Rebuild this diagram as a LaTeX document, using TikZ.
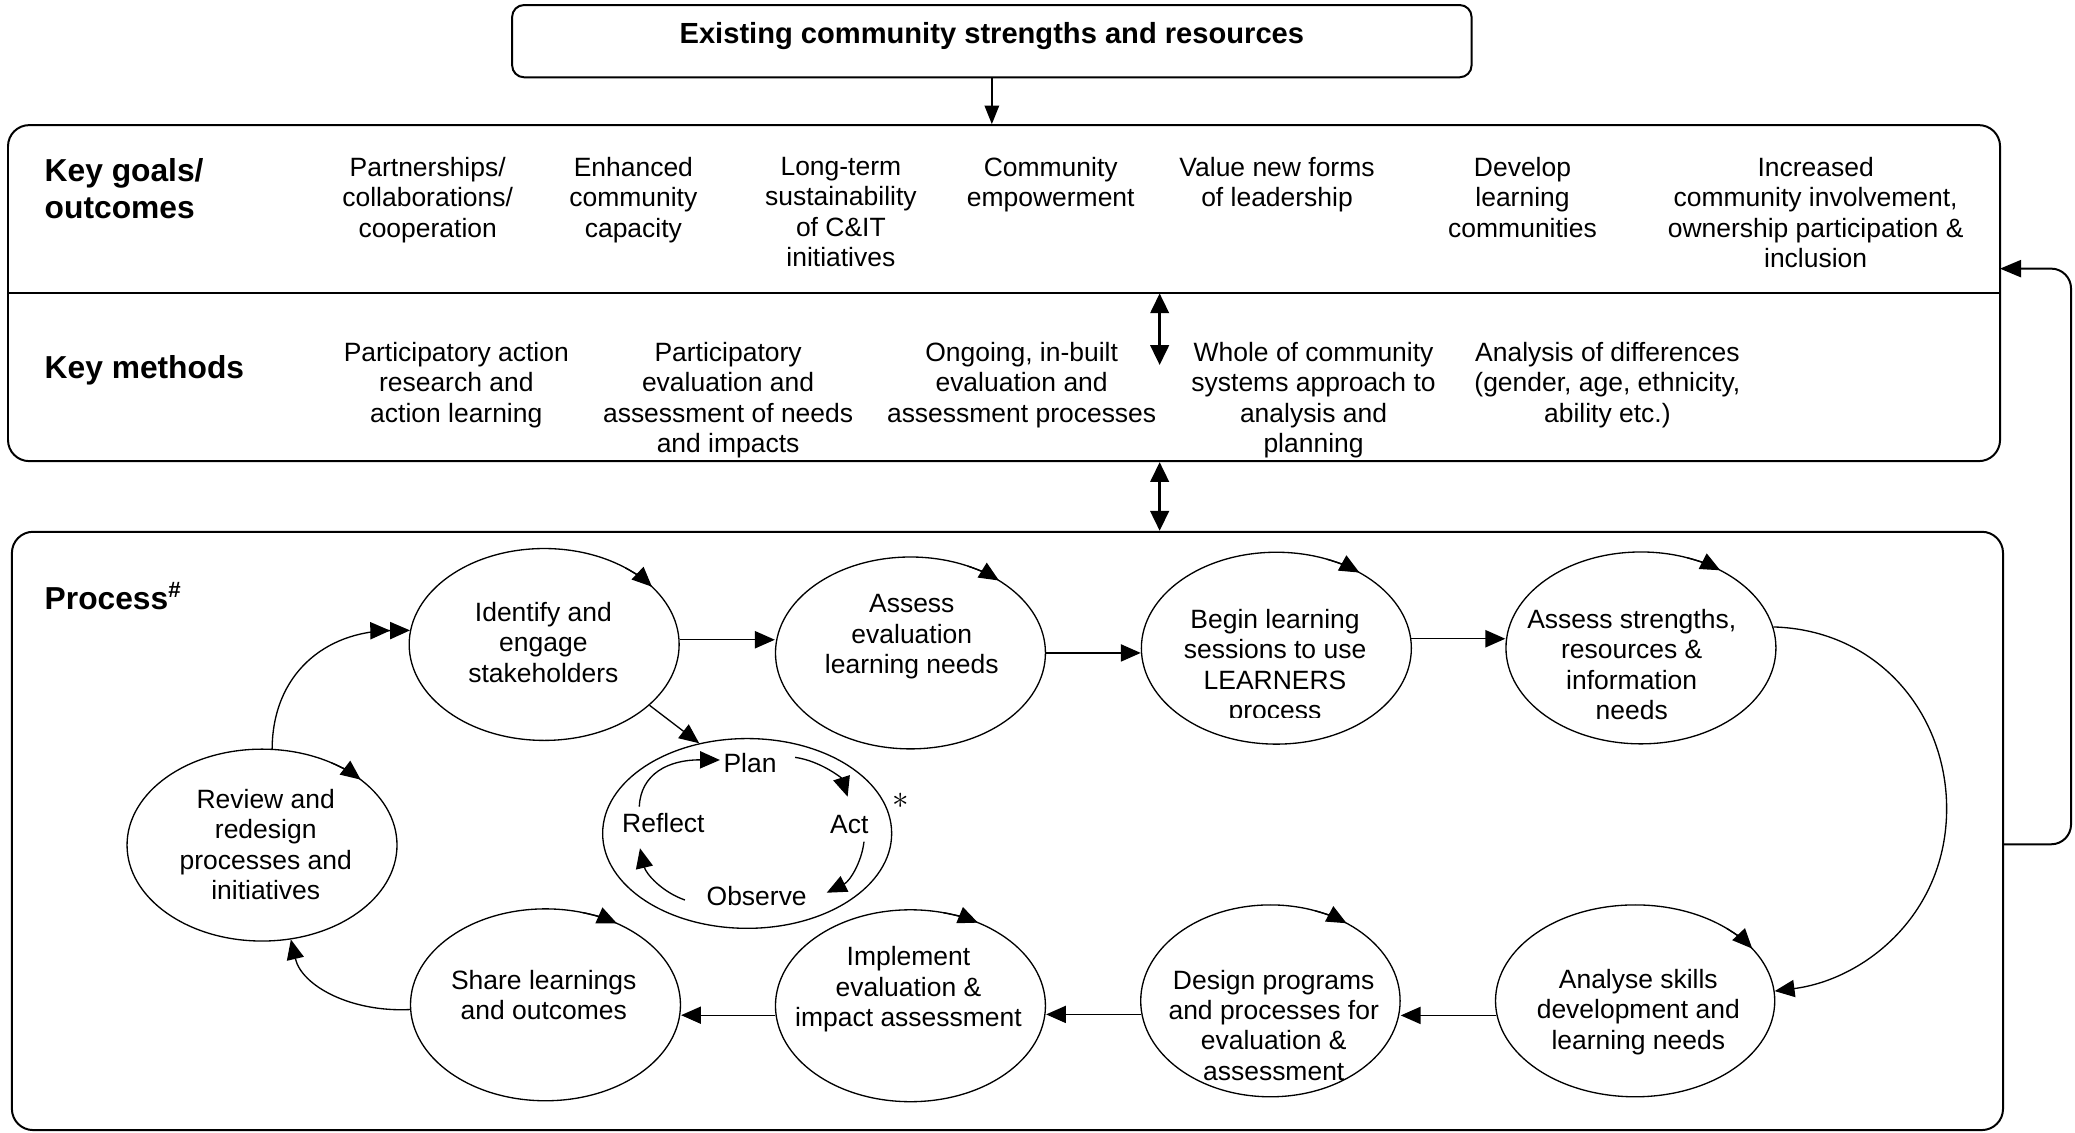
\documentclass[tikz,border=0pt]{standalone}
\usepackage{fontspec}
\setmainfont{Liberation Sans}
\usetikzlibrary{arrows.meta,shapes.geometric,calc}
\begin{document}
\begin{tikzpicture}[x=1pt,y=-1pt,
  box/.style={draw,line width=1.5pt,rectangle,rounded corners=16pt,inner sep=0pt},
  ell/.style={ellipse,draw,line width=1pt,minimum width=204pt,minimum height=145pt,inner sep=0pt},
  txt/.style={align=center,font=\fontsize{20}{23}\selectfont,inner sep=0pt,anchor=north},
  lbl/.style={font=\fontsize{20}{23}\selectfont,inner sep=0pt,anchor=base},
  hd/.style={align=left,font=\fontsize{24}{27.7}\selectfont\bfseries,inner sep=0pt},
  arr/.style={line width=1pt,-{Triangle[length=15pt,width=13pt]}},
  arrtwo/.style={line width=1pt,-{Triangle[length=15pt,width=13pt]Triangle[length=15pt,width=13pt]}},
  dbl/.style={line width=2pt,{Triangle[length=15pt,width=14pt]}-{Triangle[length=15pt,width=14pt]}},
  fb/.style={line width=1.5pt,-{Triangle[length=16pt,width=13pt]},rounded corners=15pt}]
\useasboundingbox (0,0) rectangle (1568,856);

% boxes
\node[box,rounded corners=9pt,minimum width=725pt,minimum height=54.6pt] (topbox) at (749.5,31.1) {};
\node[font=\fontsize{22}{26}\selectfont\bfseries,inner sep=0pt,anchor=base] (title) at (749.5,33.1) {Existing community strengths and resources};
\node[box,minimum width=1505.3pt,minimum height=253.9pt] (goalsbox) at (758.7,221.5) {};
\coordinate (divL) at (6,221.7);
\coordinate (divR) at (1511.3,221.7);
\draw[line width=1.5pt] (divL) -- (divR);
\node[box,minimum width=1504.6pt,minimum height=452.1pt] (procbox) at (761.3,627.9) {};

% headings
\node[hd,anchor=north west] (hgoals) at (33.6,119.9) {Key goals/\\outcomes};
\node[hd,anchor=base west] (hmethods) at (33.6,285.7) {Key methods};
\node[hd,anchor=base west] (hprocess) at (33.6,460.6) {Process\textsuperscript{\#}};

% goals
\node[txt] (g1) at (323.2,118.7) {Partnerships/\\collaborations/\\cooperation};
\node[txt] (g2) at (478.6,118.7) {Enhanced\\community\\capacity};
\node[txt] (g3) at (635.4,118.7) {Long-term\\sustainability\\of C\&IT\\initiatives};
\node[txt] (g4) at (794,118.7) {Community\\empowerment};
\node[txt] (g5) at (965,118.7) {Value new forms\\of leadership};
\node[txt] (g6) at (1150.5,118.7) {Develop\\learning\\communities};
\node[txt] (g7) at (1372,118.7) {Increased\\community involvement,\\ownership participation \&\\inclusion};

% methods
\node[txt] (m1t) at (344.8,258.5) {Participatory action\\research and\\action learning};
\node[txt] (m2t) at (550.2,258.5) {Participatory\\evaluation and\\assessment of needs\\and impacts};
\node[txt] (m3t) at (772,258.5) {Ongoing, in-built\\evaluation and\\assessment processes};
\node[txt] (m4t) at (992.6,258.5) {Whole of community\\systems approach to\\analysis and\\planning};
\node[txt] (m5t) at (1214.6,258.5) {Analysis of differences\\(gender, age, ethnicity,\\ability etc.)};

% top connectors
\draw[line width=1pt,-{Triangle[length=14pt,width=11pt]}] (topbox.south) -- (topbox.south |- goalsbox.north);
\coordinate (da1) at (876.3,221.7);
\coordinate (da2) at (876.3,275.8);
\draw[dbl] (da1) -- (da2);
\draw[dbl] (goalsbox.south -| da1) -- (procbox.north -| da1);
\coordinate (fbout) at (1513.6,638);
\coordinate (fbin) at (1511.3,203);
\draw[fb] (fbout) -- (1565,638) -- (1565,203) -- (fbin);

% process ellipses
\node[ell] (ident) at (411.2,487) {};
\node[ell] (assess) at (688,493.4) {};
\node[ell] (begin) at (964.5,489.8) {};
\node[ell] (strengths) at (1240,489.6) {};
\node[ell,minimum width=211pt] (analyse) at (1235.6,756.3) {};
\node[ell,minimum width=196pt] (design) at (960,756.3) {};
\node[ell] (implement) at (688,760) {};
\node[ell] (share) at (412.2,759.3) {};
\node[ell] (review) at (198,638.6) {};
\node[ell,minimum width=218.4pt,minimum height=143.4pt] (pdca) at (564.6,629.8) {};

% ellipse texts
\node[txt] (identT) at (410.6,454.9) {Identify and\\engage\\stakeholders};
\node[txt] (assessT) at (689,449.2) {Assess\\evaluation\\learning needs};
\begin{scope}
\clip (850,440) rectangle (1080,542);
\node[txt] (beginT) at (963.5,460) {Begin learning\\sessions to use\\LEARNERS\\process};
\end{scope}
\node[txt] (strengthsT) at (1233,460) {Assess strengths,\\resources \&\\information\\needs};
\node[txt] (analyseT) at (1238,732) {Analyse skills\\development and\\learning needs};
\begin{scope}
\clip (850,700) rectangle (1080,817);
\node[txt] (designT) at (962.5,732.7) {Design programs\\and processes for\\evaluation \&\\assessment};
\end{scope}
\node[txt] (implementT) at (686.5,715.1) {Implement\\evaluation \&\\impact assessment};
\node[txt] (shareT) at (410.9,732.7) {Share learnings\\and outcomes};
\node[txt] (reviewT) at (200.8,596) {Review and\\redesign\\processes and\\initiatives};

% PDCA labels
\node[lbl] (plan) at (566.8,583.8) {Plan};
\node[lbl] (act) at (641.8,629.7) {Act};
\node[lbl] (observe) at (571.8,684.6) {Observe};
\node[lbl] (reflect) at (501.3,629.2) {Reflect};
\node[inner sep=0pt] (star) at (681,605.5) {\fontsize{30}{30}\selectfont$\ast$};

% indicator arrows on ellipses (clockwise)
\draw[arr] ($(ident)+(-53:102 and 72.5)$) arc[start angle=-53,end angle=-37,x radius=102,y radius=72.5];
\draw[arr] ($(assess)+(-65:102 and 72.5)$) arc[start angle=-65,end angle=-49,x radius=102,y radius=72.5];
\draw[arr] ($(begin)+(-68:102 and 72.5)$) arc[start angle=-68,end angle=-52,x radius=102,y radius=72.5];
\draw[arr] ($(strengths)+(-70:102 and 72.5)$) arc[start angle=-70,end angle=-54,x radius=102,y radius=72.5];
\draw[arr] ($(analyse)+(-49:105.5 and 72.5)$) arc[start angle=-49,end angle=-33,x radius=105.5,y radius=72.5];
\draw[arr] ($(design)+(-70:98 and 72.5)$) arc[start angle=-70,end angle=-54,x radius=98,y radius=72.5];
\draw[arr] ($(implement)+(-76:102 and 72.5)$) arc[start angle=-76,end angle=-60,x radius=102,y radius=72.5];
\draw[arr] ($(share)+(-74:102 and 72.5)$) arc[start angle=-74,end angle=-58,x radius=102,y radius=72.5];
\draw[arr] ($(review)+(-59:102 and 72.5)$) arc[start angle=-59,end angle=-43,x radius=102,y radius=72.5];

% process connectors
\draw[arr] (ident.2) -- (ident.2 -| assess.west);
\draw[arr] (assess.east) -- (assess.east -| begin.west);
\draw[arr] (begin.4) -- (begin.4 -| strengths.west);
\draw[arr] (strengths.9) .. controls (1420,476) and (1471,540) .. (1471,611) .. controls (1471,690) and (1410,740) .. (analyse.4);
\draw[arr] (analyse.186) -- (analyse.186 -| design.east);
\draw[arr] (design.186) -- (design.186 -| implement.east);
\draw[arr] (implement.184) -- (implement.184 -| share.east);
\draw[arr] (share.182) .. controls (265,765) and (228,745) .. (review.-73);
\draw[arrtwo] (review.84) .. controls (206,510) and (245,477) .. (ident.174);
\draw[arr] (ident.-30) -- (pdca.118);

% PDCA inner cycle
\coordinate (r1) at (483.1,609.6);
\coordinate (p0) at (544,574.3);
\coordinate (p1) at (600.8,572.3);
\coordinate (a0) at (640.5,602);
\coordinate (a1) at (652.9,636);
\coordinate (o0) at (624.7,674.6);
\coordinate (o1) at (517.6,680.1);
\coordinate (r0) at (483.6,641);
\draw[arr] (r1) .. controls (484,585) and (505,574) .. (p0);
\draw[arr] (p1) .. controls (620,575) and (636,588) .. (a0);
\draw[arr] (a1) .. controls (651,652) and (642,666) .. (o0);
\draw[arr] (o1) .. controls (500,674) and (488,660) .. (r0);
\end{tikzpicture}
\end{document}
